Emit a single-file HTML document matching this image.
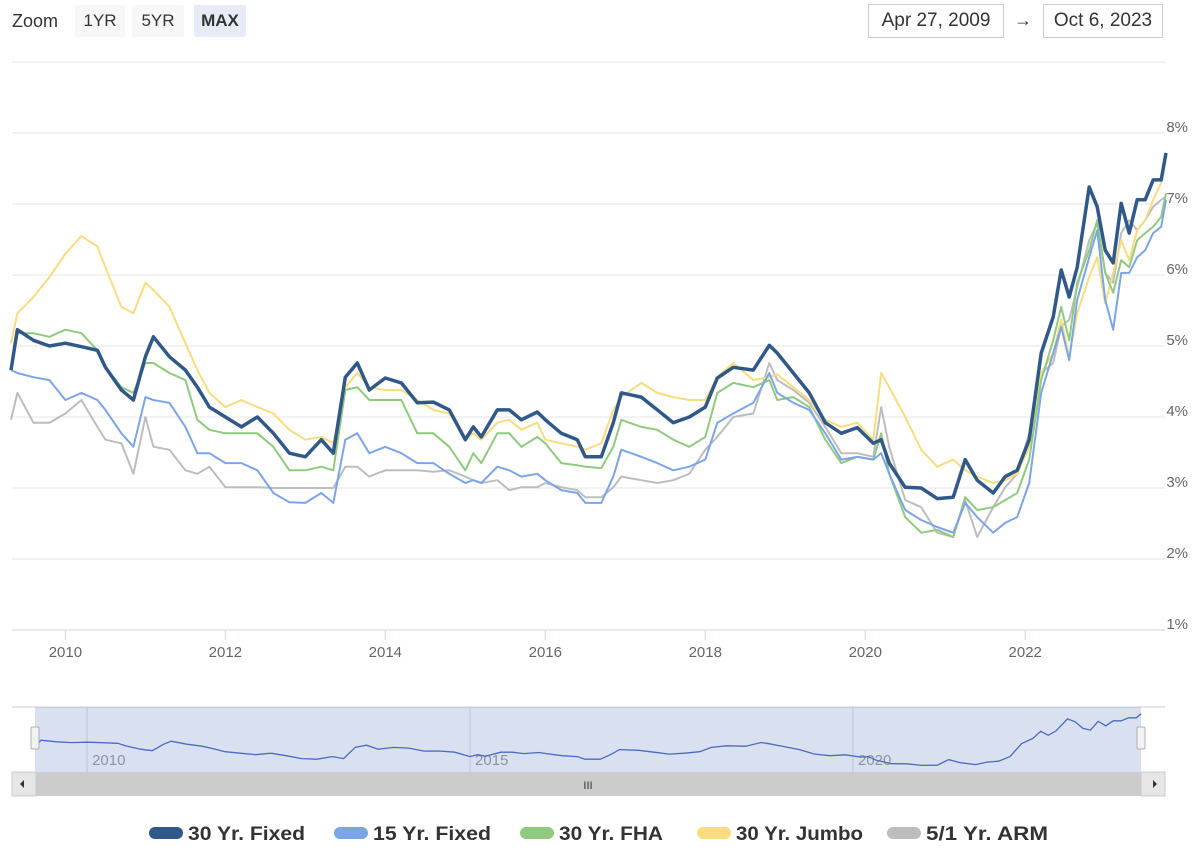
<!DOCTYPE html>
<html><head><meta charset="utf-8"><style>
body{margin:0;width:1200px;height:856px;background:#fff;font-family:"Liberation Sans",sans-serif;overflow:hidden;position:relative}
.btn{position:absolute;top:5px;height:32px;line-height:32px;font-size:17px;color:#333;background:#f7f7f7;text-align:center;border-radius:2px}
.date{position:absolute;top:4px;height:32px;line-height:32px;font-size:19px;color:#333;border:1px solid #ccc;text-align:center;background:#fff}
</style></head><body>
<div style="position:absolute;left:12px;top:5px;line-height:32px;font-size:18px;color:#333">Zoom</div>
<div class="btn" style="left:75px;width:50px">1YR</div>
<div class="btn" style="left:132px;width:52px">5YR</div>
<div class="btn" style="left:194px;width:52px;background:#e6ebf5;font-weight:bold">MAX</div>
<div class="date" style="left:868px;width:134px">Apr 27, 2009</div>
<div style="position:absolute;left:1014px;top:4px;line-height:32px;font-size:18px;color:#333">→</div>
<div class="date" style="left:1043px;width:118px">Oct 6, 2023</div>
<svg id="chart" width="1200" height="856" style="position:absolute;left:0;top:0"></svg>
<script>
const dates=[2009.32,2009.4,2009.6,2009.8,2010.0,2010.2,2010.4,2010.5,2010.7,2010.85,2011.0,2011.1,2011.3,2011.5,2011.65,2011.8,2012.0,2012.2,2012.4,2012.6,2012.8,2013.0,2013.2,2013.35,2013.5,2013.65,2013.8,2014.0,2014.2,2014.4,2014.6,2014.8,2015.0,2015.1,2015.2,2015.4,2015.55,2015.7,2015.9,2016.0,2016.2,2016.4,2016.5,2016.7,2016.85,2016.95,2017.2,2017.4,2017.6,2017.8,2018.0,2018.15,2018.35,2018.6,2018.8,2018.9,2019.1,2019.3,2019.5,2019.7,2019.9,2020.1,2020.2,2020.3,2020.5,2020.7,2020.9,2021.1,2021.25,2021.4,2021.6,2021.75,2021.9,2022.05,2022.2,2022.35,2022.45,2022.55,2022.65,2022.8,2022.9,2023.0,2023.1,2023.2,2023.3,2023.4,2023.5,2023.6,2023.7,2023.76];
const fixed30=[4.66,5.23,5.08,5.0,5.04,4.99,4.94,4.7,4.38,4.24,4.85,5.13,4.85,4.66,4.42,4.14,4.0,3.86,4.0,3.77,3.49,3.44,3.68,3.49,4.56,4.76,4.38,4.55,4.48,4.2,4.21,4.1,3.68,3.86,3.72,4.1,4.1,3.96,4.07,3.96,3.77,3.68,3.44,3.44,3.92,4.34,4.28,4.1,3.92,4.0,4.14,4.55,4.7,4.66,5.01,4.9,4.62,4.34,3.92,3.77,3.85,3.63,3.68,3.35,3.01,3.0,2.85,2.87,3.4,3.11,2.93,3.16,3.25,3.68,4.9,5.41,6.07,5.69,6.11,7.24,6.96,6.35,6.17,7.01,6.59,7.06,7.06,7.34,7.34,7.72];
const fixed15=[4.66,4.62,4.56,4.52,4.24,4.34,4.24,4.1,3.77,3.58,4.28,4.24,4.2,3.86,3.49,3.49,3.35,3.35,3.25,2.93,2.8,2.79,2.93,2.79,3.68,3.77,3.49,3.58,3.49,3.35,3.35,3.2,3.07,3.11,3.07,3.3,3.25,3.16,3.2,3.11,2.97,2.93,2.79,2.79,3.16,3.54,3.44,3.35,3.25,3.3,3.4,3.92,4.05,4.2,4.62,4.34,4.2,4.1,3.77,3.4,3.44,3.4,3.49,3.2,2.69,2.55,2.45,2.37,2.79,2.59,2.37,2.51,2.59,3.07,4.34,4.9,5.27,4.8,5.65,6.25,6.63,5.65,5.23,6.03,6.03,6.25,6.35,6.59,6.68,7.06];
const fha30=[4.66,5.18,5.18,5.13,5.23,5.18,4.94,4.7,4.42,4.34,4.76,4.76,4.62,4.52,3.96,3.82,3.77,3.77,3.77,3.58,3.25,3.25,3.3,3.25,4.38,4.42,4.24,4.24,4.24,3.77,3.77,3.58,3.25,3.49,3.35,3.77,3.77,3.58,3.72,3.63,3.35,3.32,3.3,3.28,3.58,3.96,3.86,3.82,3.68,3.58,3.72,4.34,4.48,4.42,4.52,4.24,4.28,4.14,3.68,3.35,3.44,3.4,3.77,3.2,2.59,2.37,2.41,2.31,2.87,2.69,2.73,2.83,2.93,3.4,4.52,5.08,5.55,5.08,5.89,6.35,6.77,6.03,5.75,6.21,6.11,6.49,6.59,6.68,6.82,7.15];
const jumbo30=[5.04,5.46,5.69,5.97,6.3,6.55,6.4,6.11,5.55,5.46,5.89,5.79,5.55,5.04,4.66,4.34,4.14,4.24,4.14,4.05,3.82,3.68,3.72,3.63,4.42,4.62,4.42,4.38,4.38,4.24,4.1,4.05,3.68,3.77,3.68,3.92,3.96,3.82,3.92,3.68,3.63,3.58,3.54,3.63,4.1,4.28,4.48,4.34,4.28,4.24,4.24,4.56,4.76,4.52,4.56,4.6,4.42,4.24,3.96,3.86,3.92,3.68,4.62,4.42,4.0,3.54,3.3,3.4,3.25,3.16,3.07,3.11,3.2,3.58,4.62,4.9,5.37,4.85,5.46,5.97,6.25,5.6,6.03,6.49,6.21,6.63,6.77,7.06,7.3,7.72];
const arm51=[3.96,4.34,3.92,3.92,4.05,4.24,3.86,3.68,3.63,3.2,4.0,3.58,3.54,3.25,3.2,3.3,3.01,3.01,3.01,3.0,3.0,3.0,3.0,3.0,3.3,3.3,3.16,3.25,3.25,3.25,3.23,3.25,3.16,3.11,3.07,3.11,2.97,3.01,3.01,3.07,3.01,2.97,2.87,2.87,3.01,3.16,3.11,3.07,3.11,3.2,3.54,3.72,4.0,4.05,4.76,4.52,4.38,4.2,3.86,3.49,3.49,3.44,4.14,3.58,2.83,2.73,2.37,2.31,2.83,2.31,2.73,3.01,3.2,3.77,4.62,4.76,5.27,5.37,5.83,6.49,6.73,6.03,5.89,6.59,6.77,6.63,6.77,6.96,7.06,7.1];
const yTicks=[1,2,3,4,5,6,7,8];
const xTicks=[2010,2012,2014,2016,2018,2020,2022];
const navTicks=[2010,2015,2020];
const seriesNames=["30 Yr. Fixed","15 Yr. Fixed","30 Yr. FHA","30 Yr. Jumbo","5/1 Yr. ARM"];

const NS="http://www.w3.org/2000/svg";
const svg=document.getElementById('chart');
function mk(tag,attrs,parent){const e=document.createElementNS(NS,tag);for(const k in attrs)e.setAttribute(k,attrs[k]);(parent||svg).appendChild(e);return e;}
const x0=2009.32,x1=2023.76,PL=11,PR=1166;
const xs=d=>PL+(d-x0)/(x1-x0)*(PR-PL);
const ys=v=>630-(v-1)*71;
let t=mk('line',{x1:12,x2:1165,y1:62,y2:62,stroke:'#e6e6e6'});


yTicks.forEach(v=>{
  if(v>1){const g=mk('line',{x1:12,x2:1165,y1:ys(v),y2:ys(v),stroke:'#e6e6e6','stroke-width':1});
  
  }
  const l=mk('text',{x:1188,y:ys(v)-1,'text-anchor':'end','font-size':15,fill:'#666','font-family':'Liberation Sans'});
  l.textContent=v+'%';
  
  
});
let ax=mk('line',{x1:12,x2:1165,y1:630,y2:630,stroke:'#ccd6eb'});


xTicks.forEach(y=>{
  const tk=mk('line',{x1:xs(y),x2:xs(y),y1:630,y2:640,stroke:'#ccd6eb'});
  
  
  const l=mk('text',{x:xs(y),y:657,'text-anchor':'middle','font-size':15,fill:'#666','font-family':'Liberation Sans'});
  l.textContent=y;
  
  
});
function pts(arr,fx,fy){return arr.map((v,i)=>fx(dates[i]).toFixed(1)+','+fy(v).toFixed(1)).join(' ');}
const draw=[[arm51,'#bdbdbd',2,'series-5-1-arm'],[jumbo30,'#f7dc80',2,'series-30-yr-jumbo'],[fha30,'#8fca7e',2,'series-30-yr-fha'],[fixed15,'#7ca5e8',2,'series-15-yr-fixed'],[fixed30,'#30598a',3.5,'series-30-yr-fixed']];
draw.forEach(s=>{
  const p=mk('polyline',{points:pts(s[0],xs,ys),fill:'none',stroke:s[1],'stroke-width':s[2],'stroke-linejoin':'round'});
  
  
});
const NL=35,NR=1141;
const nx=d=>NL+(d-x0)/(x1-x0)*(NR-NL);
const ny=v=>767-(v-2.7)*10.6;
let nb=mk('line',{x1:12,x2:1165,y1:707,y2:707,stroke:'#cccccc'});


navTicks.forEach(y=>{
  const g=mk('line',{x1:nx(y),x2:nx(y),y1:707,y2:772,stroke:'#d8dde6'});
  
  
  const l=mk('text',{x:nx(y)+5,y:765,'font-size':15,fill:'#999','font-family':'Liberation Sans'});
  l.textContent=y;
  
  
});
let nm=mk('rect',{x:NL,y:707,width:NR-NL,height:65,fill:'rgba(102,133,194,0.25)'});


let nl=mk('polyline',{points:pts(fixed30,nx,ny),fill:'none',stroke:'#4a6bbf','stroke-width':1.3});


[NL,NR].forEach((hx,i)=>{
  const h=mk('rect',{x:hx-4,y:727,width:8,height:22,fill:'#f2f2f2',stroke:'#999','stroke-width':0.7,rx:1});
  
  
});
let sb=mk('rect',{x:12,y:772,width:1153,height:24,fill:'#f2f2f2'});


let th=mk('rect',{x:NL,y:772,width:NR-NL,height:24,fill:'#cccccc'});


let gr=mk('text',{x:588,y:789,'text-anchor':'middle','font-size':11,fill:'#333','font-family':'Liberation Sans'});
gr.textContent='III';


[[12,'M20 784 L24 780 L24 788 Z','scrollbar-left-button'],[1141,'M1157 784 L1153 780 L1153 788 Z','scrollbar-right-button']].forEach(b=>{
  const r=mk('rect',{x:b[0],y:772,width:24,height:24,fill:'#e6e6e6',stroke:'#ccc'});
  
  
  const a=mk('path',{d:b[1],fill:'#333'});
  
  
});
const legX=[149,334,520,697,887];
const legW=[117,118,104,127,122];
const legC=['#30598a','#7ca5e8','#8fca7e','#f7dc80','#bdbdbd'];
seriesNames.forEach((n,i)=>{
  const s=mk('rect',{x:legX[i],y:827,width:34,height:12,rx:6,fill:legC[i]});
  
  
  const l=mk('text',{x:legX[i]+39,y:840,'font-size':19,'font-weight':'bold',fill:'#333','font-family':'Liberation Sans',textLength:legW[i],lengthAdjust:'spacingAndGlyphs'});
  l.textContent=n;
  
  
});
</script>
</body></html>
